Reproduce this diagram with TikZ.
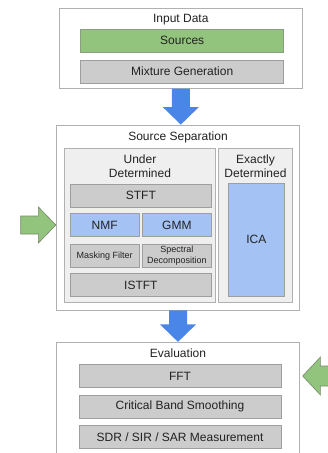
\documentclass[tikz,border=0pt]{standalone}
\usepackage{fontspec}
\setmainfont{Liberation Sans}
\usepackage{tikz}
\usetikzlibrary{positioning,calc}
\definecolor{vline}{HTML}{9E9E9E}
\definecolor{vpanel}{HTML}{EFEFEF}
\definecolor{vgray}{HTML}{CCCCCC}
\definecolor{vgreen}{HTML}{93C47D}
\definecolor{vblue}{HTML}{A4C2F4}
\definecolor{varrow}{HTML}{4A86E8}
\definecolor{vtext}{HTML}{222222}
\tikzset{
  outer/.style={draw=vline!80,fill=white,line width=0.8pt},
  panel/.style={draw=vline!80,fill=vpanel,line width=0.8pt},
  ttl/.style={inner sep=0pt,align=center,text=vtext,font=\fontsize{12}{14}\selectfont},
  gbox/.style={draw=vline,fill=vgray,line width=0.8pt,inner sep=0pt,align=center,text=vtext,font=\fontsize{12}{14}\selectfont},
  sbox/.style={gbox,font=\fontsize{9}{11}\selectfont},
  bbox/.style={gbox,fill=vblue},
  srcbox/.style={gbox,fill=vgreen,draw=vgreen!60!black!70},
  barr/.style={fill=varrow},
  garr/.style={fill=vgreen,draw=vgreen!55!black!80,line width=0.6pt},
}
% downward block arrow from one box into the next
\newcommand{\blockdown}[2]{%
  \fill[barr] (#1.south |- #2.north) -- ++(-18,-17.5) -- ++(9,0) |- ([xshift=-9pt]#1.south)
    -- ([xshift=9pt]#1.south) |- ($(#1.south |- #2.north)+(9,-17.5)$) -- ++(9,0) -- cycle;}

\begin{document}
\begin{tikzpicture}[x=1pt,y=-1pt,node distance=7pt]
  \useasboundingbox (0,0) rectangle (328,453);
  % input stage
  \node[outer,minimum width=243pt,minimum height=80pt] (in) at (180.8,48.3) {};
  \node[ttl,below=6pt of in.north] (inT) {Input Data};
  \node[srcbox,minimum width=203pt,minimum height=23pt] (src) at (182.2,40.8) {Sources};
  \node[gbox,minimum width=203pt,minimum height=23pt,below=7pt of src] (mix) {Mixture Generation};
  % separation stage
  \node[outer,minimum width=243.4pt,minimum height=185pt] (sep) at (178,217.5) {};
  \node[ttl,below=7pt of sep.north] (sepT) {Source Separation};
  \node[panel,minimum width=151.4pt,minimum height=154pt] (ud) at (140,225.3) {};
  \node[panel,minimum width=74.4pt,minimum height=154pt] (ed) at (255.5,225.3) {};
  \node[ttl,below=6.7pt of ud.north] (udT) {Under\\Determined};
  \node[ttl,below=6.7pt of ed.north] (edT) {Exactly\\Determined};
  \node[gbox,minimum width=141.7pt,minimum height=23pt] (stft) at (140.85,195.8) {STFT};
  \node[bbox,minimum width=69.3pt,minimum height=23.4pt] (nmf) at (104.65,225) {NMF};
  \node[bbox,minimum width=69.7pt,minimum height=23.4pt] (gmm) at (176.85,225) {GMM};
  \node[sbox,minimum width=69.3pt,minimum height=23.4pt] (mask) at (104.65,255.7) {Masking Filter};
  \node[sbox,minimum width=69.7pt,minimum height=23.4pt] (spec) at (176.85,255.7) {Spectral\\Decomposition};
  \node[gbox,minimum width=141.7pt,minimum height=23.4pt] (istft) at (140.85,285) {ISTFT};
  \node[bbox,minimum width=56pt,minimum height=112.7pt] (ica) at (256.3,239.7) {ICA};
  % evaluation stage
  \node[outer,minimum width=243.4pt,minimum height=125pt] (eval) at (178,404.8) {};
  \node[ttl,below=6.7pt of eval.north] (evalT) {Evaluation};
  \node[gbox,minimum width=202pt,minimum height=23.4pt] (fft) at (180,376) {FFT};
  \node[gbox,minimum width=202pt,minimum height=23pt,below=6.6pt of fft] (cbs) {Critical Band Smoothing};
  \node[gbox,minimum width=202pt,minimum height=23pt,below=6.6pt of cbs] (sdr) {SDR / SIR / SAR Measurement};
  % flow between stages
  \blockdown{in}{sep}
  \blockdown{sep}{eval}
  \coordinate (lt) at (20.7,225);
  \coordinate (rt) at (335,376);
  \draw[garr] ($(lt)+(0,-9)$) -- ($(sep.west |- nmf)+(-17.5,-9)$) -- ++(0,-9) -- (sep.west |- nmf)
    -- ++(-17.5,18) -- ++(0,-9) -- ($(lt)+(0,9)$) -- cycle;
  \draw[garr] ($(rt)+(0,-10)$) -- ($(eval.east |- fft)+(20.3,-10)$) -- ++(0,-9) -- ($(eval.east |- fft)+(2.6,0)$)
    -- ++(17.7,19) -- ++(0,-9) -- ($(rt)+(0,10)$) -- cycle;
\end{tikzpicture}
\end{document}
